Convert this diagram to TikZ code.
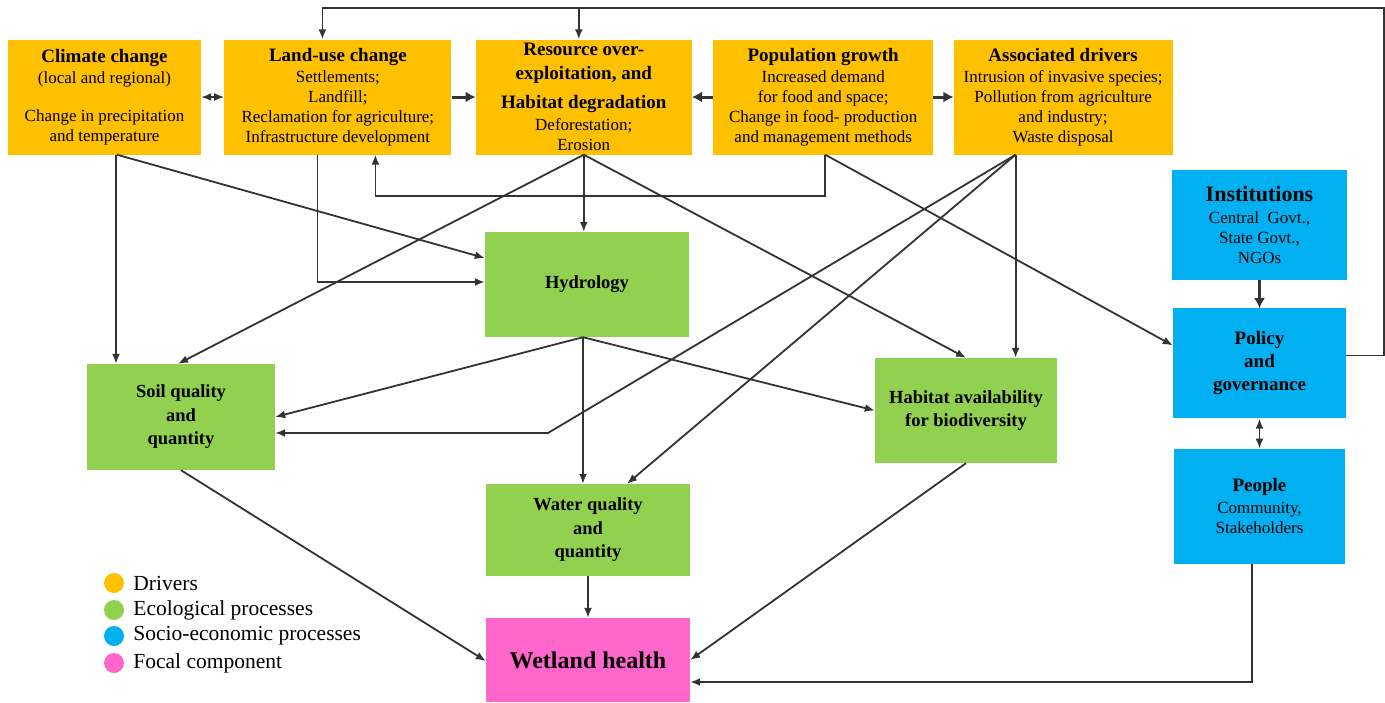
\documentclass[tikz,border=0pt]{standalone}
\usepackage{fontspec}
\setmainfont{Liberation Serif}
\usetikzlibrary{positioning,calc,arrows.meta}
\definecolor{drvorange}{HTML}{FFC000}
\definecolor{ecogreen}{HTML}{92D050}
\definecolor{socioblue}{HTML}{00B0F0}
\definecolor{focalpink}{HTML}{FF66CC}
\definecolor{linkgray}{HTML}{333333}
\newcommand{\boxhead}[2][19]{{\fontsize{#1}{#1}\selectfont\bfseries #2}}

\begin{document}
\begin{tikzpicture}[
    x=1pt, y=-1pt,
    box/.style={align=center, inner sep=2pt, font=\fontsize{17}{20}\selectfont},
    driver/.style={box, fill=drvorange, minimum height=115pt},
    eco/.style={box, fill=ecogreen, font=\fontsize{18.5}{23.5}\selectfont\bfseries},
    socio/.style={box, fill=socioblue},
    focal/.style={box, fill=focalpink, font=\fontsize{24}{28}\selectfont\bfseries},
    link/.style={->, draw=linkgray, line width=1.8pt},
    heavy/.style={link, line width=3pt, >={Latex[length=10pt,width=11pt]}},
    legdot/.style={circle, inner sep=0pt, minimum size=20pt},
    legtext/.style={inner sep=0pt, font=\fontsize{21.5}{24}\selectfont},
    >={Latex[length=10pt,width=8pt]}
  ]
  \useasboundingbox (0,0) rectangle (1385,702);

  % drivers
  \node[driver, minimum width=193pt] (climate) at (104.5,97)
    {\boxhead{Climate change}\\[1pt](local and regional)\\[18pt]Change in precipitation\\and temperature};
  \node[driver, minimum width=227pt, right=23pt of climate] (landuse)
    {\boxhead{Land-use change}\\[1pt]Settlements;\\Landfill;\\Reclamation for agriculture;\\Infrastructure development};
  \node[driver, minimum width=216pt, right=24pt of landuse] (resource)
    {\boxhead{Resource over-}\\[4pt]\boxhead{exploitation, and}\\[9pt]\boxhead{Habitat degradation}\\[2pt]Deforestation;\\Erosion};
  \node[driver, minimum width=220pt, right=21pt of resource] (population)
    {\boxhead{Population growth}\\[1pt]Increased demand\\for food and space;\\Change in food- production\\and management methods};
  \node[driver, minimum width=219pt, right=20pt of population] (associated)
    {\boxhead{Associated drivers}\\[1pt]Intrusion of invasive species;\\Pollution from agriculture\\and industry;\\Waste disposal};

  % socio-economic column
  \node[socio, minimum width=175pt, minimum height=110pt] (institutions) at (1259.5,225)
    {\boxhead[22]{Institutions}\\[2pt]Central~ Govt.,\\State Govt.,\\NGOs};
  \node[socio, minimum width=173pt, minimum height=110pt, below=28pt of institutions] (policy)
    {\boxhead{Policy}\\[3pt]\boxhead{and}\\[3pt]\boxhead{governance}};
  \node[socio, minimum width=171pt, minimum height=115pt, below=30pt of policy] (people)
    {\boxhead{People}\\[2pt]Community,\\Stakeholders};

  % ecological processes
  \node[eco, minimum width=204pt, minimum height=105pt] (hydrology) at (587,284.5) {Hydrology};
  \node[eco, minimum width=188pt, minimum height=106pt] (soil) at (181,417) {Soil quality\\and\\quantity};
  \node[eco, minimum width=182pt, minimum height=105pt] (habitat) at (966,410.5) {Habitat availability\\for biodiversity};
  \node[eco, minimum width=204pt, minimum height=92pt] (water) at (588,530) {Water quality\\and\\quantity};
  \node[focal, minimum width=204pt, minimum height=84pt] (wetland) at (588,660) {Wetland health};

  % legend
  \node[legdot, fill=drvorange] (legdrv) at (114,583) {};
  \node[legtext, right=9pt of legdrv] (legdrvtxt) {Drivers};
  \node[legdot, fill=ecogreen] (legeco) at (114,610) {};
  \node[legtext, right=9pt of legeco] (legecotxt) {Ecological processes};
  \node[legdot, fill=socioblue] (legsoc) at (114,636) {};
  \node[legtext, right=9pt of legsoc] (legsoctxt) {Socio-economic processes};
  \node[legdot, fill=focalpink] (legfoc) at (114,663) {};
  \node[legtext, right=9pt of legfoc] (legfoctxt) {Focal component};

  % helper points
  \coordinate (fbtop) at (1384,8);
  \coordinate (resin) at ([xshift=-5]resource.north);
  \coordinate (popout) at ([xshift=2]population.south);
  \coordinate (assout) at ([xshift=-47.5]associated.south);
  \coordinate (hydout) at ([xshift=-4]hydrology.south);
  \coordinate (soilbend) at (548,433);

  % arrows between drivers
  \draw[link, <->] (climate) -- (landuse);
  \draw[heavy] (landuse) -- (resource);
  \draw[heavy] (population) -- (resource);
  \draw[heavy] (population) -- (associated);
  \draw[link] ([yshift=8]policy.east) -| (fbtop) -| ([xshift=-15.5]landuse.north);
  \draw[link] (resin |- fbtop) -- (resin);
  \draw[link] (popout) -- ++(0,41) -| ([xshift=37.5]landuse.south);

  % drivers to processes
  \draw[link] ([xshift=11.5]climate.south) -- ([xshift=11.5]climate.south |- soil.north);
  \draw[link] ([xshift=12.5]climate.south) -- ([yshift=26.5]hydrology.west);
  \draw[link] ([xshift=-20.5]landuse.south) |- ([yshift=2.5]hydrology.west);
  \draw[link] (resource.south) -- (resource.south |- hydrology.north);
  \draw[link] (resource.south) -- ([xshift=-3]soil.north);
  \draw[link] (resource.south) -- (habitat.north);
  \draw[link] (popout) -- ([yshift=18]policy.west);
  \draw[link] (assout) -- (assout |- habitat.north);
  \draw[link] (assout) -- ([xshift=39]water.north);
  \draw[link] (assout) -- (soilbend) -- (soilbend -| soil.east);

  % processes to wetland health
  \draw[link] (hydout) -- (soil.east);
  \draw[link] (hydout) -- (hydout |- water.north);
  \draw[link] (hydout) -- (habitat.west);
  \draw[link] (soil.south) -- ([yshift=-1]wetland.west);
  \draw[link] (habitat.south) -- (wetland.east);
  \draw[link] (water) -- (wetland);
  \draw[link] ([xshift=-7.5]people.south) |- ([yshift=-22]wetland.east);
  \draw[heavy] (institutions) -- (policy);
  \draw[link, <->] (policy.south) -- (policy.south |- people.north);
\end{tikzpicture}
\end{document}
